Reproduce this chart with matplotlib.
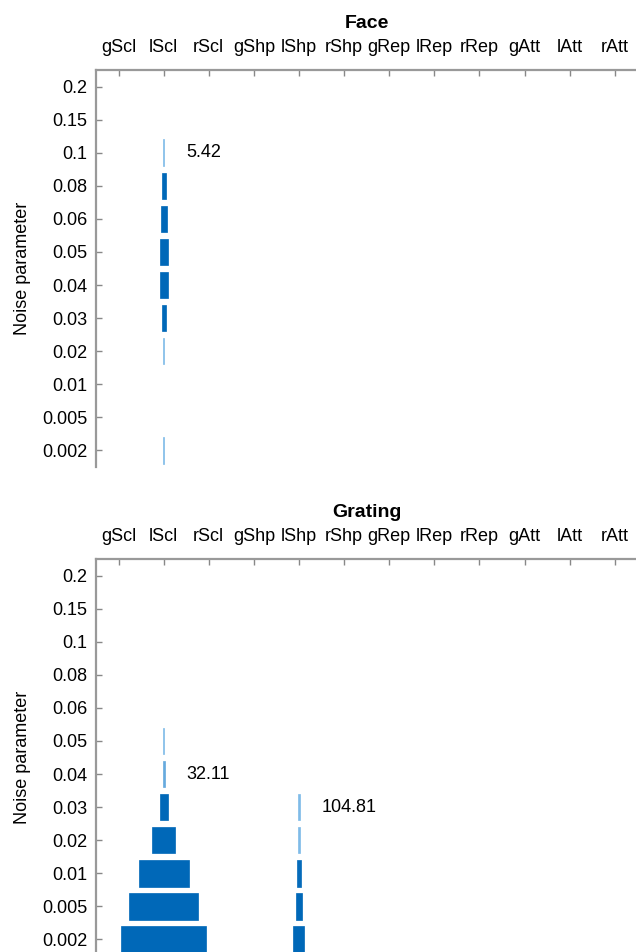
import numpy as np
import matplotlib
matplotlib.use("Agg")
import matplotlib.pyplot as plt
from matplotlib.colors import to_rgb

plt.rcParams["font.family"] = ["Liberation Sans", "DejaVu Sans"]

# -----------------------------
# Data (bar widths)
# -----------------------------
columns = ["gScl", "lScl", "rScl", "gShp", "lShp", "rShp",
           "gRep", "lRep", "rRep", "gAtt", "lAtt", "rAtt"]
noise_levels = ["0.2", "0.15", "0.1", "0.08", "0.06", "0.05",
                "0.04", "0.03", "0.02", "0.01", "0.005", "0.002"]

# Face: only lScl has bars
face_lscl = [0, 0, 1.3, 4.0, 6.3, 8.3, 7.7, 4.0, 1.3, 0, 0, 1.3]
# Grating: lScl and lShp
grating_lscl = [0, 0, 0, 0, 0, 1.3, 1.8, 8.3, 23.0, 50.0, 69.0, 85.0]
grating_lshp = [0, 0, 0, 0, 0, 0, 0, 1.3, 1.3, 3.7, 6.3, 11.0]

face_bars = {"lScl": face_lscl}
grating_bars = {"lScl": grating_lscl, "lShp": grating_lshp}

face_notes = [("lScl", "0.1", "5.42")]
grating_notes = [("lScl", "0.04", "32.11"), ("lShp", "0.03", "104.81")]

COL_PX = 45.1          # pixel spacing of one column
LIGHT = np.array(to_rgb("#7fbbe8"))
DARK = np.array(to_rgb("#0068b8"))


def bar_color(w):
    t = np.clip((w - 1.3) / 2.5, 0, 1)
    return tuple(LIGHT * (1 - t) + DARK * t)


def draw_panel(ax, title, bars, notes):
    for col, vals in bars.items():
        xi = columns.index(col)
        for yi, w in enumerate(vals):
            if w <= 0:
                continue
            width = w / COL_PX
            c = bar_color(w)
            ax.barh(yi, width, left=xi - width / 2, height=0.8,
                    color=c, edgecolor=c, linewidth=0.5)
    for col, lev, txt in notes:
        ax.text(columns.index(col) + 0.5, noise_levels.index(lev), txt,
                ha="left", va="center", fontsize=13)

    ax.set_xlim(-0.5, 11.5)
    ax.set_ylim(11.5, -0.5)
    ax.xaxis.tick_top()
    ax.set_xticks(range(len(columns)))
    ax.set_xticklabels(columns, fontsize=13)
    ax.set_yticks(range(len(noise_levels)))
    ax.set_yticklabels(noise_levels, fontsize=13)
    ax.tick_params(direction="in", length=4, width=1, color="#888888", pad=6)
    ax.tick_params(axis="x", pad=10)
    for s in ["right", "bottom"]:
        ax.spines[s].set_visible(False)
    for s in ["left", "top"]:
        ax.spines[s].set_color("#999999")
        ax.spines[s].set_linewidth(1.6)
    ax.set_ylabel("Noise parameter", fontsize=13, labelpad=8)
    ax.set_title(title, fontsize=14, fontweight="bold", pad=30)


fig = plt.figure(figsize=(6.36, 9.52), dpi=100)
ax1 = fig.add_axes([0.151, 0.5095, 0.851, 0.417])
ax2 = fig.add_axes([0.151, -0.0042, 0.851, 0.417])

draw_panel(ax1, "Face", face_bars, face_notes)
draw_panel(ax2, "Grating", grating_bars, grating_notes)

fig.savefig("out.png", dpi=100)
